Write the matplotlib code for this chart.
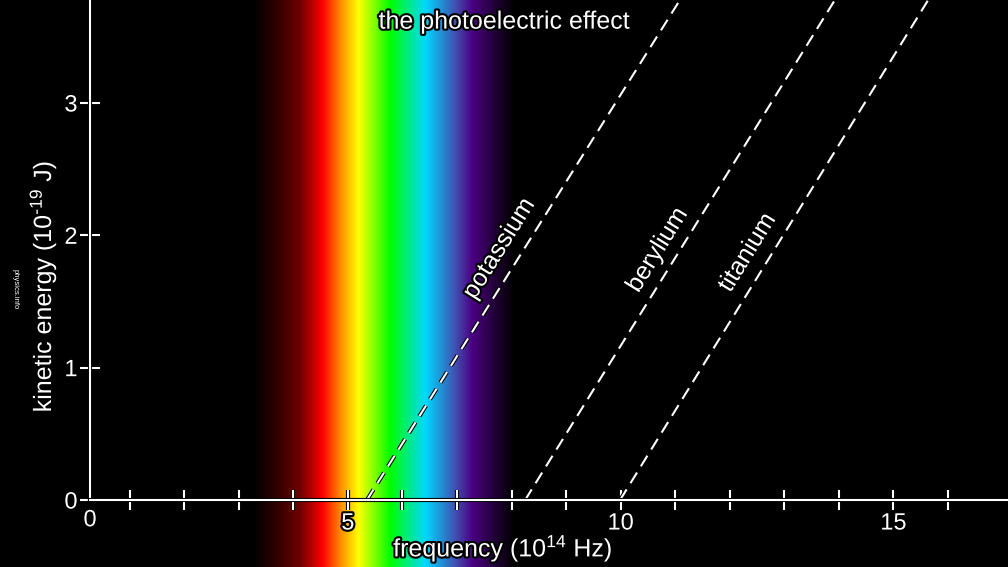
import numpy as np
import matplotlib
matplotlib.use('Agg')
import matplotlib.pyplot as plt
import matplotlib.patheffects as pe
from matplotlib.colors import LinearSegmentedColormap

plt.rcParams['font.family'] = 'Liberation Sans'
plt.rcParams['mathtext.fontset'] = 'custom'
plt.rcParams['mathtext.rm'] = 'Liberation Sans'
plt.rcParams['mathtext.default'] = 'regular'

# visible spectrum band (frequency in 10^14 Hz, colour)
spec_freq = [3.26, 3.67, 4.12, 4.53, 4.86, 5.19, 5.77, 6.42, 6.97, 7.28, 7.70, 8.05]
spec_colors = ['#000000', '#300000', '#700000', '#ff0000', '#ff8c00', '#ffff00',
               '#00ff00', '#00d8ff', '#4050b0', '#4b0082', '#200035', '#000000']

# metals: threshold frequency and where the line leaves the top
metals = ['potassium', 'berylium', 'titanium']
f_threshold = [5.35, 8.25, 9.99]
f_top = [11.09, 13.93, 15.64]
ke_top = 3.78
label_x = [7.77, 10.67, 12.32]
label_y = [1.90, 1.89, 1.87]

xticks = list(range(1, 17))
xlabels = ['' if t % 5 else str(t) for t in xticks]
yticks = [0, 1, 2, 3]

stroke = [pe.withStroke(linewidth=3, foreground='black')]
line_fx = [pe.Stroke(linewidth=3, foreground='black'), pe.Normal()]

fig = plt.figure(figsize=(10.08, 5.67), dpi=100, facecolor='black')
ax = fig.add_axes([0, 0, 1, 1], facecolor='black')
ax.set_xlim(-1.375, 17.10)
ax.set_ylim(-0.506, 3.778)

# spectrum
pos = [(f - spec_freq[0]) / (spec_freq[-1] - spec_freq[0]) for f in spec_freq]
cmap = LinearSegmentedColormap.from_list('spec', list(zip(pos, spec_colors)))
ax.imshow(np.linspace(0, 1, 600).reshape(1, -1), cmap=cmap, aspect='auto',
          extent=[spec_freq[0], spec_freq[-1], -0.506, 3.778], zorder=0)

# lines
for name, f0, f1, lx, ly in zip(metals, f_threshold, f_top, label_x, label_y):
    ax.plot([f0, f1], [0, ke_top], color='white', lw=1.5,
            linestyle=(0, (6, 3.5)), zorder=3, path_effects=line_fx)
    ang = np.degrees(np.arctan2(ke_top, f1 - f0))
    ax.text(lx, ly, name, color='white', fontsize=18, ha='center', va='center',
            rotation=ang, transform_rotates_text=True, rotation_mode='anchor',
            path_effects=stroke, zorder=4)

# axes
y0x = 0.275
for s in ['top', 'right']:
    ax.spines[s].set_visible(False)
ax.spines['left'].set_position(('data', y0x))
ax.spines['bottom'].set_position(('data', 0))
ax.spines['left'].set_bounds(0, 3.778)
ax.spines['bottom'].set_bounds(y0x, 17.10)
for s in ['left', 'bottom']:
    ax.spines[s].set_color('white')
    ax.spines[s].set_linewidth(1.5)
    ax.spines[s].set_zorder(5)
    ax.spines[s].set_path_effects(line_fx)

ax.set_xticks(xticks)
ax.set_xticklabels(xlabels)
ax.set_yticks(yticks)
ax.tick_params(axis='both', direction='inout', length=14, width=1.5, colors='white',
               labelsize=17, pad=2)
for t in ax.xaxis.get_major_ticks() + ax.yaxis.get_major_ticks():
    t.tick1line.set_path_effects(line_fx)
    t.tick1line.set_zorder(5)
for lbl in ax.get_xticklabels() + ax.get_yticklabels():
    lbl.set_path_effects(stroke)

ax.text(y0x, -0.07, '0', color='white', fontsize=17, ha='center', va='top',
        path_effects=stroke)

ax.text(0.5, 0.983, 'the photoelectric effect', transform=ax.transAxes, color='white',
        fontsize=18, ha='center', va='top', path_effects=stroke)
ax.text(0.499, 0.006, 'frequency (10$^{14}$ Hz)', transform=ax.transAxes, color='white',
        fontsize=18, ha='center', va='bottom', path_effects=stroke)
ax.text(0.042, 0.495, 'kinetic energy (10$^{\u201019}$ J)', transform=ax.transAxes,
        color='white', fontsize=18, ha='center', va='center', rotation=90,
        path_effects=stroke)
ax.text(0.015, 0.49, 'physics.info', transform=ax.transAxes, color='white',
        fontsize=5.5, ha='center', va='center', rotation=270)

fig.savefig('out.png', dpi=100, facecolor='black')
